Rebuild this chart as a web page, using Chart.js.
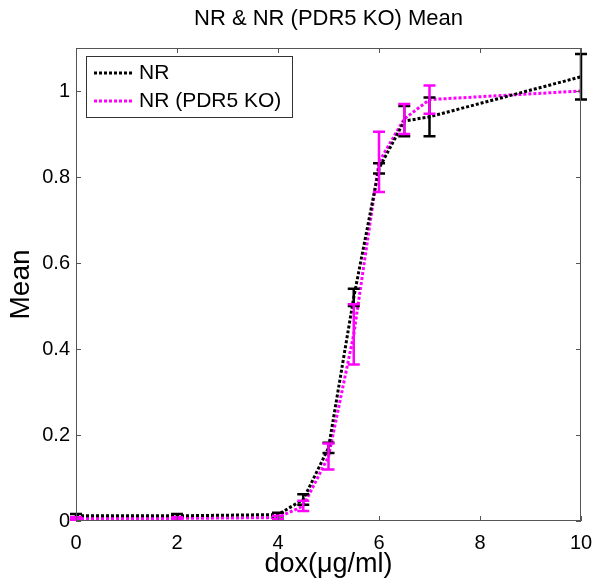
<!DOCTYPE html>
<html>
<head>
<meta charset="utf-8">
<script src="https://cdn.jsdelivr.net/npm/chart.js@4"></script>
<style>
  html, body { margin: 0; padding: 0; background: #fff; }
  #wrap { width: 597px; height: 581px; }
</style>
</head>
<body>
<div id="wrap"><canvas id="chart" width="597" height="581"></canvas></div>
<script>
// dados
const doses = [0, 2, 4, 4.5, 5, 5.5, 6, 6.5, 7, 10];
const nrMean = [0.012, 0.012, 0.015, 0.05, 0.17, 0.52, 0.82, 0.93, 0.94, 1.033];
const nrErr = [0.004, 0.004, 0.004, 0.012, 0.012, 0.02, 0.012, 0.035, 0.045, 0.053];
const koMean = [0.006, 0.006, 0.008, 0.035, 0.15, 0.434, 0.835, 0.935, 0.98, 1.0];
const koErr = [0.003, 0.003, 0.004, 0.012, 0.03, 0.07, 0.07, 0.035, 0.033, 0];
const xTicks = [0, 2, 4, 6, 8, 10];
const yTicks = [0, 0.2, 0.4, 0.6, 0.8, 1];
const titulo = 'NR & NR (PDR5 KO) Mean';

const FONT = 'Liberation Sans, Arial, sans-serif';
const MAGENTA = '#ff00ff';

const pts = (ys) => doses.map((x, i) => ({ x: x, y: ys[i] }));

// barras de erro + caixa + ticks para dentro (estilo MATLAB)
const extras = {
  id: 'extras',
  afterDatasetsDraw(chart) {
    const { ctx, chartArea: a, scales: { x, y } } = chart;
    ctx.save();
    chart.data.datasets.forEach(ds => {
      ctx.strokeStyle = ds.borderColor;
      ctx.lineWidth = 2.5;
      ds.data.forEach((p, i) => {
        const e = ds.errs[i];
        if (!e) return;
        const px = x.getPixelForValue(p.x);
        const top = y.getPixelForValue(p.y + e);
        const bot = y.getPixelForValue(p.y - e);
        ctx.beginPath();
        ctx.moveTo(px, top); ctx.lineTo(px, bot);
        ctx.moveTo(px - 6, top); ctx.lineTo(px + 6, top);
        ctx.moveTo(px - 6, bot); ctx.lineTo(px + 6, bot);
        ctx.stroke();
      });
    });

    ctx.strokeStyle = '#555';
    ctx.lineWidth = 1;
    ctx.strokeRect(a.left + 0.5, a.top + 0.5, a.right - a.left - 1, a.bottom - a.top - 1);
    ctx.beginPath();
    xTicks.forEach(v => {
      const px = Math.round(x.getPixelForValue(v)) + 0.5;
      ctx.moveTo(px, a.bottom); ctx.lineTo(px, a.bottom - 5);
      ctx.moveTo(px, a.top); ctx.lineTo(px, a.top + 5);
    });
    yTicks.forEach(v => {
      const py = Math.round(y.getPixelForValue(v)) + 0.5;
      ctx.moveTo(a.left, py); ctx.lineTo(a.left + 5, py);
      ctx.moveTo(a.right, py); ctx.lineTo(a.right - 5, py);
    });
    ctx.stroke();

    // título centrado sobre a área do gráfico
    ctx.fillStyle = '#000';
    ctx.font = '22px ' + FONT;
    ctx.textAlign = 'center';
    ctx.textBaseline = 'middle';
    ctx.fillText(titulo, (a.left + a.right) / 2, 19);

    // legenda dentro do gráfico
    const lx = 86, ly = 56, lw = 206, lh = 61;
    ctx.fillStyle = '#fff';
    ctx.fillRect(lx, ly, lw, lh);
    ctx.strokeStyle = '#333';
    ctx.strokeRect(lx + 0.5, ly + 0.5, lw, lh);
    ctx.font = '21px ' + FONT;
    ctx.textAlign = 'left';
    chart.data.datasets.forEach((ds, i) => {
      const ry = ly + 17 + i * 28;
      ctx.strokeStyle = ds.borderColor;
      ctx.lineWidth = 3;
      ctx.setLineDash([3, 2]);
      ctx.beginPath();
      ctx.moveTo(lx + 8, ry); ctx.lineTo(lx + 47, ry);
      ctx.stroke();
      ctx.setLineDash([]);
      ctx.fillStyle = '#000';
      ctx.fillText(ds.label, lx + 53, ry);
    });
    ctx.restore();
  }
};

new Chart(document.getElementById('chart'), {
  type: 'line',
  data: {
    datasets: [
      {
        label: 'NR',
        data: pts(nrMean),
        errs: nrErr,
        borderColor: '#000',
        borderWidth: 3,
        borderDash: [3, 2],
        pointRadius: 0,
        tension: 0
      },
      {
        label: 'NR (PDR5 KO)',
        data: pts(koMean),
        errs: koErr,
        borderColor: MAGENTA,
        borderWidth: 3,
        borderDash: [3, 2],
        pointRadius: 0,
        tension: 0
      }
    ]
  },
  options: {
    responsive: false,
    animation: false,
    layout: { padding: { left: 0, right: 16, top: 48, bottom: 0 } },
    scales: {
      x: {
        type: 'linear', min: 0, max: 10,
        afterBuildTicks: s => { s.ticks = xTicks.map(v => ({ value: v })); },
        afterFit: s => { s.height = 60; },
        grid: { display: false },
        border: { display: false },
        ticks: { color: '#000', font: { family: FONT, size: 20 }, padding: 2, maxRotation: 0 },
        title: { display: true, text: 'dox(μg/ml)', color: '#000', font: { family: FONT, size: 27 }, padding: { top: 0, bottom: 0 } }
      },
      y: {
        type: 'linear', min: 0, max: 1.1,
        afterBuildTicks: s => { s.ticks = yTicks.map(v => ({ value: v })); },
        afterFit: s => { s.width = 76; },
        grid: { display: false, drawTicks: false },
        border: { display: false },
        ticks: {
          color: '#000', font: { family: FONT, size: 20 }, padding: 6,
          callback: v => String(Math.round(v * 10) / 10)
        },
        title: { display: true, text: 'Mean', color: '#000', font: { family: FONT, size: 28 }, padding: { top: 4, bottom: 0 } }
      }
    },
    plugins: {
      legend: { display: false },
      tooltip: { enabled: false },
      title: { display: false }
    }
  },
  plugins: [extras]
});
</script>
</body>
</html>
